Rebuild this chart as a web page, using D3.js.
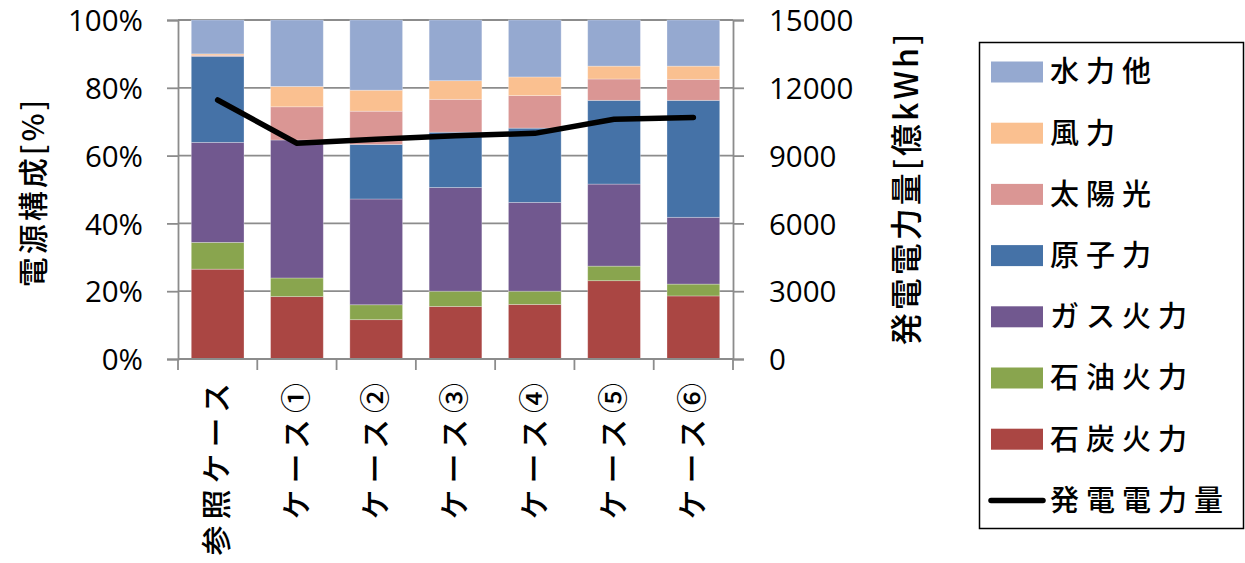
<!DOCTYPE html>
<html lang="ja">
<head>
<meta charset="UTF-8">
<script src="https://d3js.org/d3.v7.min.js"></script>
<title>電源構成</title>
<style>
    body { margin: 0; background: #fff; }
    .tick-num { font-family: "Open Sans", "Noto Sans CJK JP", sans-serif; font-size: 29.5px; fill: #000; }
    .jp { font-family: "Noto Sans CJK JP", sans-serif; font-weight: 500; fill: #000; }
</style>
</head>
<body>
<svg id="chart" width="1245" height="563"></svg>
<script>
// カテゴリ
const categories = ["参照ケース", "ケース①", "ケース②", "ケース③", "ケース④", "ケース⑤", "ケース⑥"];
// 電源構成 [%] (下から積み上げ)
const coal    = [26.5, 18.4, 11.6, 15.5, 16.1, 23.1, 18.6];
const oil     = [ 7.9,  5.5,  4.4,  4.5,  3.9,  4.3,  3.5];
const gas     = [29.5, 40.7, 31.2, 30.6, 26.2, 24.2, 19.7];
const nuclear = [25.4,  0.0, 16.1, 16.3, 21.9, 24.7, 34.5];
const solar   = [ 0.3,  9.8,  9.8,  9.7,  9.6,  6.3,  6.2];
const wind    = [ 0.4,  6.0,  6.2,  5.5,  5.5,  3.8,  3.9];
const hydro   = [10.0, 19.6, 20.7, 17.9, 16.8, 13.6, 13.6];
// 発電電力量 [億kWh]
const generation = [11460, 9545, 9720, 9880, 9985, 10605, 10690];

const leftTicks = [0, 20, 40, 60, 80, 100];
const rightTicks = [0, 3000, 6000, 9000, 12000, 15000];

const seriesNames = ["石炭火力", "石油火力", "ガス火力", "原子力", "太陽光", "風力", "水力他"];
const seriesColors = ["#AA4643", "#89A54E", "#71588F", "#4572A7", "#DA9694", "#FAC090", "#95A9D0"];
const seriesData = [coal, oil, gas, nuclear, solar, wind, hydro];

const svg = d3.select("#chart");
const x0 = 178, x1 = 733, yTop = 20, yBot = 359;

const x = d3.scaleBand().domain(categories).range([x0, x1]).paddingInner(0.335).paddingOuter(0.1675);
const yL = d3.scaleLinear().domain([0, 100]).range([yBot, yTop]);
const yR = d3.scaleLinear().domain([0, 15000]).range([yBot, yTop]);

const gridColor = "#8c8c8c";

// grid lines
svg.append("g").selectAll("line").data(leftTicks.slice(1)).join("line")
    .attr("x1", x0).attr("x2", x1)
    .attr("y1", d => yL(d)).attr("y2", d => yL(d))
    .attr("stroke", gridColor).attr("stroke-width", 1.8);

// stacked bars
const rows = categories.map((c, i) => {
    const r = { cat: c };
    seriesNames.forEach((s, j) => r[s] = seriesData[j][i]);
    return r;
});
const stacked = d3.stack().keys(seriesNames)(rows);
svg.append("g").selectAll("g").data(stacked).join("g")
    .attr("fill", (d, i) => seriesColors[i])
    .selectAll("rect").data(d => d).join("rect")
    .attr("x", d => x(d.data.cat))
    .attr("width", x.bandwidth())
    .attr("y", d => yL(d[1]))
    .attr("height", d => yL(d[0]) - yL(d[1]))
    .attr("stroke", "#ffffff").attr("stroke-opacity", 0.35).attr("stroke-width", 0.8);

// axes
const axL = svg.append("g").attr("transform", `translate(${x0},0)`)
    .call(d3.axisLeft(yL).tickValues(leftTicks).tickFormat(d => d + "%").tickSize(11).tickPadding(24));
const axR = svg.append("g").attr("transform", `translate(${x1},0)`)
    .call(d3.axisRight(yR).tickValues(rightTicks).tickFormat(d3.format("d")).tickSize(11).tickPadding(25));
[axL, axR].forEach(a => {
    a.select(".domain").attr("stroke", gridColor).attr("stroke-width", 1.8);
    a.selectAll(".tick line").attr("stroke", gridColor).attr("stroke-width", 1.8);
    a.selectAll(".tick text").attr("class", "tick-num").attr("dy", "0.36em");
});

// bottom axis with band boundary ticks
svg.append("line").attr("x1", x0).attr("x2", x1).attr("y1", yBot).attr("y2", yBot)
    .attr("stroke", gridColor).attr("stroke-width", 1.8);
const step = x.step();
svg.append("g").selectAll("line").data(d3.range(categories.length + 1)).join("line")
    .attr("x1", i => x0 + i * step).attr("x2", i => x0 + i * step)
    .attr("y1", yBot).attr("y2", yBot + 11)
    .attr("stroke", gridColor).attr("stroke-width", 1.8);

// category labels (rotated)
svg.append("g").selectAll("text").data(categories).join("text")
    .attr("class", "jp")
    .attr("transform", d => `translate(${x(d) + x.bandwidth() / 2 - 1},377) rotate(-90)`)
    .attr("text-anchor", "end")
    .attr("dy", "0.36em")
    .style("font-size", "30px")
    .style("letter-spacing", "6px")
    .text(d => d);

// total generation line
const line = d3.line()
    .x((d, i) => x(categories[i]) + x.bandwidth() / 2)
    .y(d => yR(d));
svg.append("path").datum(generation)
    .attr("d", line)
    .attr("fill", "none").attr("stroke", "#000").attr("stroke-width", 5.5)
    .attr("stroke-linecap", "round").attr("stroke-linejoin", "round");

// axis titles
svg.append("text").attr("class", "jp")
    .attr("transform", "translate(33,192) rotate(-90)")
    .attr("text-anchor", "middle").attr("dy", "0.36em")
    .style("font-size", "30px").style("letter-spacing", "3px")
    .text("電源構成[%]");
svg.append("text").attr("class", "jp")
    .attr("transform", "translate(906,188) rotate(-90)")
    .attr("text-anchor", "middle").attr("dy", "0.36em")
    .style("font-size", "32px").style("letter-spacing", "3px")
    .text("発電電力量[億kWh]");

// legend
const lg = svg.append("g");
lg.append("rect").attr("x", 979.5).attr("y", 42.5).attr("width", 264).attr("height", 486)
    .attr("fill", "#fff").attr("stroke", "#000").attr("stroke-width", 1.5);
const legendItems = seriesNames.map((n, i) => ({ name: n, color: seriesColors[i], type: "bar" })).reverse();
legendItems.push({ name: "発電電力量", color: "#000", type: "line" });
const li = lg.selectAll("g").data(legendItems).join("g")
    .attr("transform", (d, i) => `translate(991,${72 + i * 61.2})`);
li.filter(d => d.type === "bar").append("rect")
    .attr("x", 0).attr("y", -10.5).attr("width", 52).attr("height", 21).attr("fill", d => d.color);
li.filter(d => d.type === "line").append("line")
    .attr("x1", 0).attr("x2", 52).attr("y1", 0).attr("y2", 0)
    .attr("stroke", "#000").attr("stroke-width", 5.5).attr("stroke-linecap", "round");
li.append("text").attr("class", "jp")
    .attr("x", 59).attr("dy", "0.36em")
    .style("font-size", "29px").style("letter-spacing", "7px")
    .text(d => d.name);
</script>
</body>
</html>
